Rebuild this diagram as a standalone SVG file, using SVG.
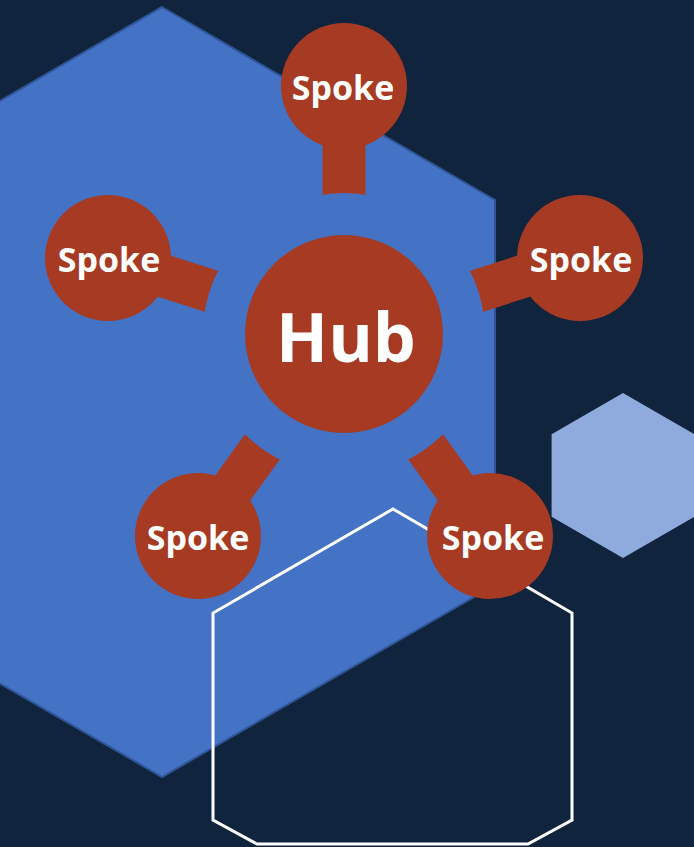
<svg xmlns="http://www.w3.org/2000/svg" width="694" height="847" viewBox="0 0 694 847">
<style>
.spoke{fill:#A63A22}
.stub{stroke:#A63A22;stroke-width:43;stroke-linecap:butt;fill:none}
.lbl{font-family:"Open Sans","DejaVu Sans",sans-serif;font-weight:bold;fill:#FFFFFF;text-anchor:middle}
</style>
<defs>
<mask id="gap" maskUnits="userSpaceOnUse" x="0" y="0" width="694" height="847">
<rect x="0" y="0" width="694" height="847" fill="#fff"/>
<circle cx="344" cy="334" r="141" fill="#000"/>
</mask>
</defs>
<rect x="0" y="0" width="694" height="847" fill="#10243D"/>
<g id="bighex"><polygon points="162,7 495,200 495,585 162,777 -171,585 -171,200" fill="#4472C4" stroke="#2F5597" stroke-width="2"/></g>
<g id="smallhex"><polygon points="623,393 694.4,434.3 694.4,516.7 623,558 551.6,516.7 551.6,434.3" fill="#8FAADC"/></g>
<g id="outlinehex"><polygon points="393,509 572,613 572,820 528,844 257,844 213,820 213,613" fill="none" stroke="#FFFFFF" stroke-width="3"/></g>
<g id="connectors" mask="url(#gap)">
<line class="stub" x1="344" y1="334" x2="344" y2="86"/>
<line class="stub" x1="344" y1="334" x2="108" y2="258"/>
<line class="stub" x1="344" y1="334" x2="580" y2="258"/>
<line class="stub" x1="344" y1="334" x2="198" y2="536"/>
<line class="stub" x1="344" y1="334" x2="490" y2="536"/>
</g>
<g id="hub"><circle class="spoke" cx="344" cy="334" r="99"/><text class="lbl" x="346" y="362" font-size="68">Hub</text></g>
<g id="spoke-top"><circle class="spoke" cx="344" cy="86" r="63"/><text class="lbl" x="343" y="100" font-size="34">Spoke</text></g>
<g id="spoke-left"><circle class="spoke" cx="108" cy="258" r="63"/><text class="lbl" x="109" y="272" font-size="34">Spoke</text></g>
<g id="spoke-right"><circle class="spoke" cx="580" cy="258" r="63"/><text class="lbl" x="581" y="272" font-size="34">Spoke</text></g>
<g id="spoke-bl"><circle class="spoke" cx="198" cy="536" r="63"/><text class="lbl" x="198" y="550" font-size="34">Spoke</text></g>
<g id="spoke-br"><circle class="spoke" cx="490" cy="536" r="63"/><text class="lbl" x="493" y="550" font-size="34">Spoke</text></g>
</svg>
